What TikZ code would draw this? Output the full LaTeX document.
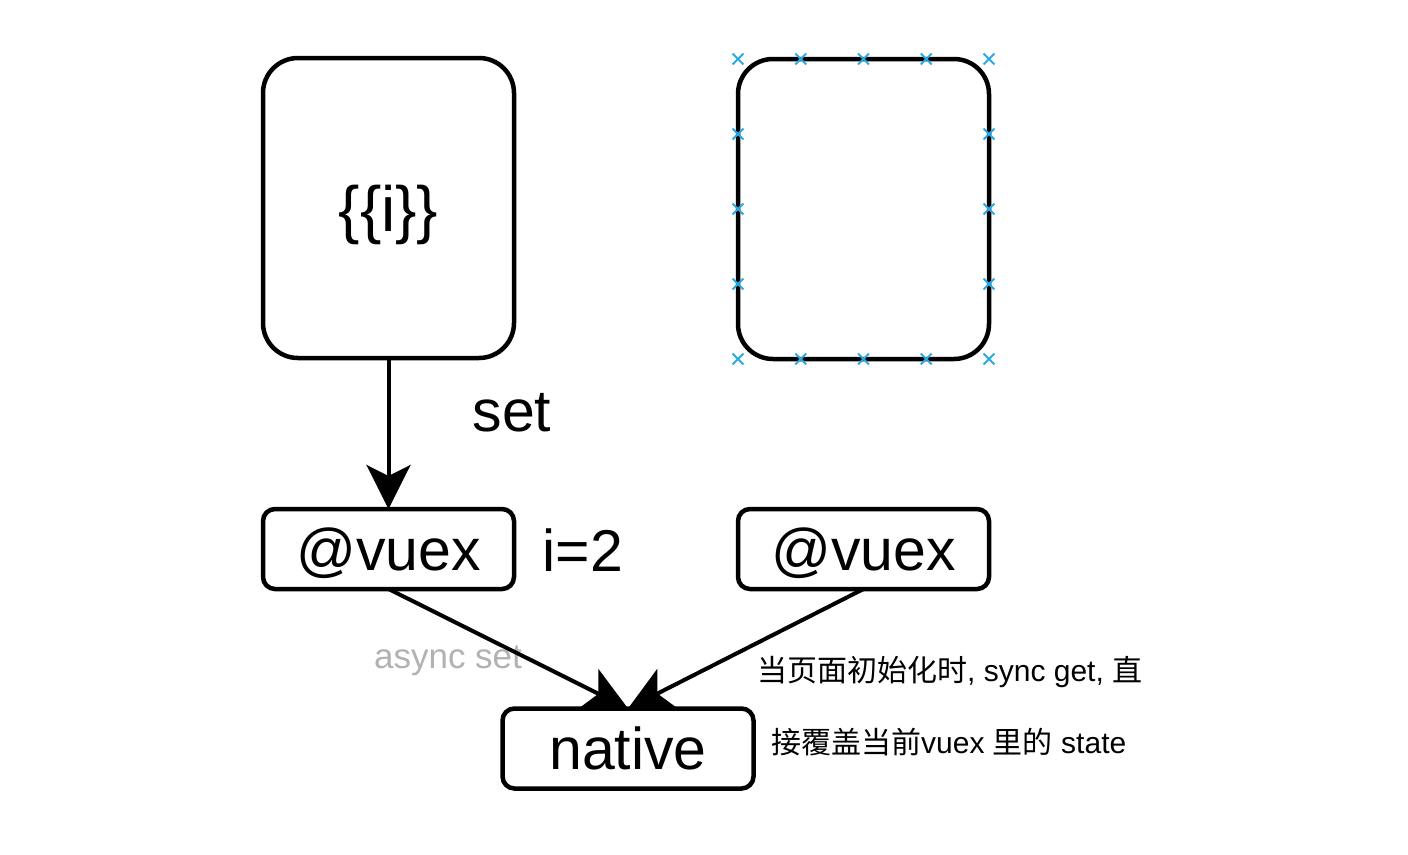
\documentclass[tikz,border=0pt]{standalone}
\usepackage{fontspec}
\setmainfont{Liberation Sans}
\newfontfamily\cjk{Noto Sans CJK SC}
\usepackage{xcolor}
\usepackage{tikz}
\usetikzlibrary{arrows.meta}
\usetikzlibrary{shapes.misc}
\usetikzlibrary{calc}
\definecolor{markblue}{RGB}{41,170,227}
\definecolor{labelgray}{RGB}{178,178,178}

\begin{document}
\begin{tikzpicture}[
  x=1pt,y=-1pt,
  bigbox/.style={rectangle,draw,rounded corners=35pt,minimum width=251pt,minimum height=300pt,outer sep=0pt,line width=4.5pt,text depth=0pt,font=\fontsize{64}{66}\selectfont},
  smallbox/.style={rectangle,draw,rounded corners=12pt,minimum width=251pt,minimum height=80pt,inner sep=0pt,outer sep=0pt,line width=4.5pt,text depth=0pt,font=\fontsize{59}{62}\selectfont},
  biglabel/.style={inner sep=0pt,font=\fontsize{59}{62}\selectfont},
  notelabel/.style={inner sep=0pt,anchor=west,font=\fontsize{30}{33}\selectfont},
  xmark/.style={cross out,draw=markblue,line width=1.8pt,minimum size=9pt,inner sep=0pt},
  flow/.style={draw,line width=4pt,-{Stealth[length=44pt,width=44pt,inset=11pt]}}
]
\useasboundingbox (0,0) rectangle (1408,854);

% top boxes
\node[bigbox] (tmpl) at (388.5,208) {\{\{i\}\}};
\node[bigbox] (blank) at (863.5,209) {};
\foreach \f [count=\i] in {0,0.25,0.5,0.75,1} {
  \node[xmark] (top\i) at ($(blank.north west)!\f!(blank.north east)$) {};
  \node[xmark] (bot\i) at ($(blank.south west)!\f!(blank.south east)$) {};
}
\foreach \f [count=\i] in {0.25,0.5,0.75} {
  \node[xmark] (lft\i) at ($(blank.north west)!\f!(blank.south west)$) {};
  \node[xmark] (rgt\i) at ($(blank.north east)!\f!(blank.south east)$) {};
}

% vuex boxes
\node[smallbox] (vuexleft) at (388.5,549) {@vuex};
\node[smallbox] (vuexright) at (863.5,549) {@vuex};
\node[smallbox] (native) at (628,748.5) {native};

% labels
\node[biglabel] (lblset) at (512,413) {set};
\node[biglabel] (lbli) at (583,550) {i=2};
\node[inner sep=0pt,text=labelgray,font=\fontsize{35}{38}\selectfont] (lblasync) at (448,661) {async set};
\node[notelabel] (noteone) at (757,672) {{\cjk 当页面初始化时}, sync get, {\cjk 直}};
\node[notelabel] (notetwo) at (771,742) {{\cjk 接覆盖当前}vuex {\cjk 里的} state};

% connectors
\draw[flow] (tmpl.south) -- (vuexleft.north);
\draw[flow] (vuexleft.south) -- (native.north);
\draw[flow] (vuexright.south) -- (native.north);

\end{tikzpicture}
\end{document}
